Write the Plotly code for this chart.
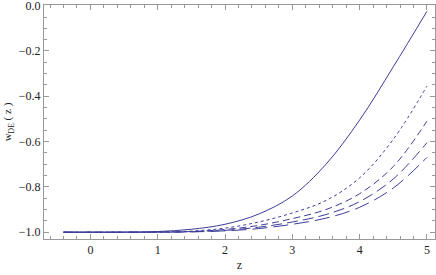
import plotly.graph_objects as go

z = [-0.4, 0.0, 0.5, 1.0, 1.5, 2.0, 2.5, 3.0, 3.5, 4.0, 4.5, 5.0]
w_solid = [-1.0, -1.0, -0.9995, -0.997, -0.987, -0.965, -0.92, -0.84, -0.70, -0.505, -0.27, -0.025]
w_dash1 = [-1.0, -1.0, -1.0, -0.999, -0.995, -0.982, -0.955, -0.915, -0.86, -0.76, -0.59, -0.355]
w_dash2 = [-1.0, -1.0, -1.0, -0.9995, -0.997, -0.988, -0.97, -0.94, -0.90, -0.83, -0.71, -0.51]
w_dash3 = [-1.0, -1.0, -1.0, -1.0, -0.998, -0.992, -0.978, -0.955, -0.922, -0.865, -0.765, -0.605]
w_dash4 = [-1.0, -1.0, -1.0, -1.0, -0.9985, -0.994, -0.984, -0.965, -0.938, -0.89, -0.805, -0.67]

series = [
    (w_solid, "solid"),
    (w_dash1, "3px,3px"),
    (w_dash2, "7px,4px"),
    (w_dash3, "11px,5px"),
    (w_dash4, "15px,6px"),
]

SERIF = "Times New Roman"
color = "#3d3d99"
fig = go.Figure()
for w, dash in series:
    fig.add_trace(go.Scatter(x=z, y=w, mode="lines",
                             line=dict(color=color, width=1, dash=dash, shape="spline", smoothing=1.0),
                             showlegend=False, hoverinfo="skip"))

axis_common = dict(
    showgrid=False, zeroline=False, showline=True, linecolor="#999999", linewidth=1,
    mirror="allticks", ticks="inside", ticklen=5, tickcolor="#999999", tickwidth=1,
    tickfont=dict(family=SERIF, size=12, color="#222222"),
    automargin=False, ticklabeloverflow="allow",
)

fig.update_xaxes(range=[-0.69, 5.12], tickvals=[0, 1, 2, 3, 4, 5],
                 minor=dict(ticks="inside", ticklen=3, dtick=0.2, tick0=0, tickcolor="#999999", showgrid=False),
                 title=dict(text="z", font=dict(family=SERIF, size=12, color="#222222"), standoff=4),
                 **axis_common)
fig.update_yaxes(range=[-1.03, 0.003], tickvals=[-1.0, -0.8, -0.6, -0.4, -0.2, 0.0], tickformat=".1f",
                 minor=dict(ticks="inside", ticklen=3, dtick=0.05, tick0=0, tickcolor="#999999", showgrid=False),
                 title=dict(text="w<sub>DE</sub> ( z )", font=dict(family=SERIF, size=11, color="#222222"), standoff=4),
                 **axis_common)

fig.update_layout(width=436, height=275, margin=dict(l=44, r=1, t=5, b=36),
                  paper_bgcolor="white", plot_bgcolor="white",
                  font=dict(family=SERIF))
fig.write_html("out.html", config={"displayModeBar": False, "staticPlot": True},
               post_script="document.body.style.margin='0';document.body.style.padding='0';")
